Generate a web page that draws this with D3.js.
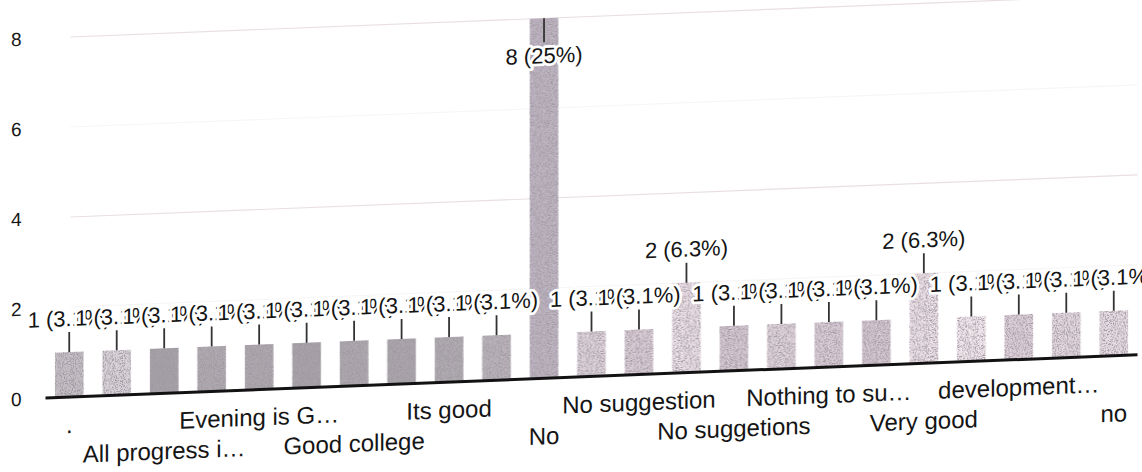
<!DOCTYPE html>
<html>
<head>
<meta charset="utf-8">
<script src="https://cdn.jsdelivr.net/npm/d3@7"></script>
<style>
  html, body { margin: 0; background: #fff; }
  svg { display: block; font-family: "Liberation Sans", Arial, Helvetica, sans-serif; }
</style>
</head>
<body>
<svg id="chart" width="1142" height="472"></svg>
<script>
// Responses per answer (alphabetical order, every other label shown on the axis)
const categories = [".", "", "All progress i…", "", "Evening is G…", "", "Good college", "",
  "Its good", "", "No", "", "No suggestion", "", "No suggetions", "", "Nothing to su…", "",
  "Very good", "", "development…", "", "no"];
const responses = [1, 1, 1, 1, 1, 1, 1, 1, 1, 1, 8, 1, 1, 2, 1, 1, 1, 1, 2, 1, 1, 1, 1];
const yTicks = [0, 2, 4, 6, 8];

// Bar tones (greyed print of the single series colour)
const barTones = ["#c6c0c6", "#dad4da", "#a6a0a7", "#b0aab0", "#aea8ae", "#a8a2a9", "#ada7ae",
  "#aba5ac", "#b0aab1", "#bab3ba", "#bfb5c3", "#e0d4dc", "#dbced7", "#eee1e9", "#d7c9d3",
  "#e1d4dc", "#dbced8", "#d6c8d2", "#efe2e9", "#f3e8ee", "#dfd1db", "#e5d8e0", "#e9dee5"];

const left = 45.5, right = 1137.5;
const slope = -0.0395;                       // page tilt of the whole plot
const skewDeg = Math.atan(slope) * 180 / Math.PI;

const total = d3.sum(responses);
const pct = v => {
  const s = (v / total * 100).toFixed(1);
  return s.endsWith(".0") ? s.slice(0, -2) : s;
};

const svg = d3.select("#chart");

// speckled fill for the bars
const defs = svg.append("defs");
const grain = defs.append("filter").attr("id", "grain")
  .attr("x", 0).attr("y", 0).attr("width", 1).attr("height", 1);
grain.append("feTurbulence").attr("type", "fractalNoise").attr("baseFrequency", "0.9")
  .attr("numOctaves", 2).attr("seed", 7).attr("result", "noise");
grain.append("feColorMatrix").attr("in", "noise").attr("type", "matrix")
  .attr("values", "0 0 0 0 0.34  0 0 0 0 0.31  0 0 0 0 0.35  0 0 0 5 -2.3")
  .attr("result", "specks");
grain.append("feComposite").attr("in", "specks").attr("in2", "SourceGraphic")
  .attr("operator", "in").attr("result", "clipped");
const merge = grain.append("feMerge");
merge.append("feMergeNode").attr("in", "SourceGraphic");
merge.append("feMergeNode").attr("in", "clipped");

const g = svg.append("g")
  .attr("transform", `translate(${left},0) skewY(${skewDeg}) translate(${-left},0)`);

const x = d3.scaleBand()
  .domain(d3.range(responses.length))
  .range([left, right])
  .paddingInner(0.4)
  .paddingOuter(0.2);

const y = d3.scaleLinear().domain([0, 8]).range([398, 38]);

// gridlines (faint print)
g.append("g").selectAll("line")
  .data(yTicks.filter(t => t > 0))
  .join("line")
  .attr("x1", left + 25).attr("x2", right)
  .attr("y1", d => y(d)).attr("y2", d => y(d))
  .attr("stroke", d => d % 4 === 0 ? "#e8dfe4" : "#f8f5f7")
  .attr("stroke-width", 1.2);

// y tick labels
g.append("g").selectAll("text")
  .data(yTicks)
  .join("text")
  .attr("x", 21.5)
  .attr("y", d => y(d))
  .attr("dy", "0.36em")
  .attr("text-anchor", "end")
  .attr("font-size", 19)
  .attr("fill", "#151515")
  .text(d => d);

// bars
g.append("g").selectAll("rect")
  .data(responses)
  .join("rect")
  .attr("x", (d, i) => x(i))
  .attr("width", x.bandwidth())
  .attr("y", d => y(d))
  .attr("height", d => y(0) - y(d))
  .attr("fill", (d, i) => barTones[i])
  .attr("filter", "url(#grain)");

// baseline
g.append("line")
  .attr("x1", left).attr("x2", right)
  .attr("y1", y(0)).attr("y2", y(0))
  .attr("stroke", "#121212").attr("stroke-width", 3);

// value annotations: stem + label with white halo, drawn in order so later ones overlap
const ann = g.append("g");
responses.forEach((v, i) => {
  const cx = x(i) + x.bandwidth() / 2;
  const top = y(v);
  const above = top - 48 > 0;
  const stemEnd = above ? top - 20 : top + 24;
  const textY = above ? top - 26 : top + 45;
  ann.append("line")
    .attr("x1", cx).attr("x2", cx)
    .attr("y1", top).attr("y2", stemEnd)
    .attr("stroke", "#333").attr("stroke-width", 1.8);
  ann.append("text")
    .attr("x", cx).attr("y", textY)
    .attr("text-anchor", "middle")
    .attr("font-size", 22)
    .attr("fill", "#141414")
    .attr("stroke", "#fff").attr("stroke-width", 5.5)
    .attr("stroke-linejoin", "round")
    .attr("paint-order", "stroke")
    .text(`${v} (${pct(v)}%)`);
});

// category labels, staggered in two rows
g.append("g").selectAll("text")
  .data(categories.map((c, i) => ({ c, i })).filter(d => d.i % 2 === 0))
  .join("text")
  .attr("x", d => x(d.i) + x.bandwidth() / 2)
  .attr("y", d => d.i % 4 === 0 ? 434 : 464)
  .attr("text-anchor", "middle")
  .attr("font-size", 24)
  .attr("fill", "#151515")
  .text(d => d.c);
</script>
</body>
</html>
